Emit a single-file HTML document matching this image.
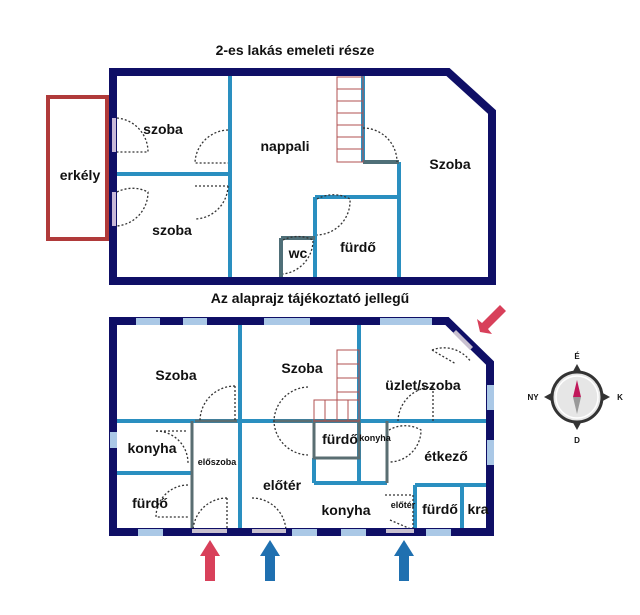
<!DOCTYPE html><html><head><style>body{margin:0;background:#fff}svg{display:block}text{font-family:"Liberation Sans",sans-serif;font-weight:bold;fill:#111}</style></head><body>
<svg width="640" height="615" viewBox="0 0 640 615" xmlns="http://www.w3.org/2000/svg">
<text x="295" y="55" font-size="14" text-anchor="middle">2-es lakás emeleti része</text>
<!-- top plan -->
<rect x="48" y="97" width="59" height="142" fill="none" stroke="#b03a3a" stroke-width="4"/>
<g stroke="#2a8fc0" stroke-width="4" fill="none">
<line x1="230" y1="72" x2="230" y2="281"/><line x1="113" y1="174" x2="230" y2="174"/>
<line x1="363" y1="72" x2="363" y2="162"/><line x1="399" y1="162" x2="399" y2="281"/>
<line x1="315" y1="197" x2="399" y2="197"/><line x1="315" y1="197" x2="315" y2="281"/>
</g>
<g stroke="#4f6f78" stroke-width="4"><line x1="363" y1="162" x2="399" y2="162"/><line x1="281" y1="238" x2="315" y2="238"/><line x1="281" y1="238" x2="281" y2="281"/></g>
<g stroke="#b05050" stroke-width="1" fill="none"><rect x="337" y="77" width="26" height="85"/>
<line x1="337" y1="89" x2="363" y2="89"/><line x1="337" y1="101" x2="363" y2="101"/><line x1="337" y1="113" x2="363" y2="113"/><line x1="337" y1="125" x2="363" y2="125"/><line x1="337" y1="137" x2="363" y2="137"/><line x1="337" y1="149" x2="363" y2="149"/></g>
<g stroke="#333" stroke-width="1.3" stroke-dasharray="2,2" fill="none">
<path d="M117 118 A34 34 0 0 1 148 152 L117 152"/><path d="M228 130 A34 34 0 0 0 195 163 L228 163"/>
<path d="M228 186 A34 34 0 0 1 195 219 M195 186 L228 186"/><path d="M117 192 A34 34 0 0 1 148 192 A34 34 0 0 1 117 226"/>
<path d="M363 128 A34 34 0 0 1 397 162"/><path d="M317 199 A34 34 0 0 1 350 199 A34 34 0 0 1 317 235"/>
<path d="M283 240 A34 34 0 0 1 313 240 A34 34 0 0 1 283 274"/></g>
<path d="M113 72 L448 72 L492 112 L492 281 L113 281 Z" fill="none" stroke="#0f0f66" stroke-width="8"/>
<rect x="112" y="118" width="4" height="34" fill="#c8b8d8"/><rect x="112" y="192" width="4" height="34" fill="#c8b8d8"/>
<text x="163" y="134" font-size="14" text-anchor="middle">szoba</text>
<text x="285" y="151" font-size="14" text-anchor="middle">nappali</text>
<text x="450" y="169" font-size="14" text-anchor="middle">Szoba</text>
<text x="80" y="180" font-size="14" text-anchor="middle">erkély</text>
<text x="172" y="235" font-size="14" text-anchor="middle">szoba</text>
<text x="298" y="258" font-size="14" text-anchor="middle">wc</text>
<text x="358" y="252" font-size="14" text-anchor="middle">fürdő</text>
<text x="310" y="303" font-size="14" text-anchor="middle">Az alaprajz tájékoztató jellegű</text>
<!-- bottom plan -->
<g stroke="#2a8fc0" stroke-width="4" fill="none">
<line x1="240" y1="321" x2="240" y2="532"/><line x1="359" y1="321" x2="359" y2="483"/>
<line x1="113" y1="421" x2="490" y2="421"/><line x1="113" y1="473" x2="192" y2="473"/>
<line x1="314" y1="458" x2="314" y2="483"/><line x1="314" y1="483" x2="387" y2="483"/>
<line x1="415" y1="485" x2="490" y2="485"/><line x1="415" y1="485" x2="415" y2="532"/>
<line x1="462" y1="485" x2="462" y2="532"/></g>
<g stroke="#5a6e72" stroke-width="3" fill="none">
<line x1="192" y1="421" x2="192" y2="532"/><rect x="314" y="421" width="45" height="37"/>
<line x1="387" y1="421" x2="387" y2="483"/><line x1="195" y1="421" x2="237" y2="421"/><line x1="273" y1="421" x2="312" y2="421"/></g>
<g stroke="#b05050" stroke-width="1" fill="none"><rect x="337" y="350" width="22" height="71"/><rect x="314" y="400" width="45" height="21"/>
<line x1="337" y1="364" x2="359" y2="364"/><line x1="337" y1="378" x2="359" y2="378"/><line x1="337" y1="392" x2="359" y2="392"/>
<line x1="325" y1="400" x2="325" y2="421"/><line x1="337" y1="400" x2="337" y2="421"/><line x1="348" y1="400" x2="348" y2="421"/></g>
<g stroke="#333" stroke-width="1.3" stroke-dasharray="2,2" fill="none">
<path d="M235 386 A35 35 0 0 0 200 421 M235 386 L235 421"/><path d="M308 387 A35 35 0 0 0 274 421 A35 35 0 0 0 308 455"/>
<path d="M433 387 A35 35 0 0 0 398 421 M433 387 L433 421"/><path d="M156 431 A32 32 0 0 1 188 463"/><path d="M156 431 L188 431"/>
<path d="M188 485 A32 32 0 0 0 156 517 L188 517"/><path d="M227 498 A34 34 0 0 0 193 532 M227 498 L227 532"/>
<path d="M252 498 A34 34 0 0 1 286 532"/><path d="M389 430 A32 32 0 0 1 421 430 A32 32 0 0 1 389 462"/>
<path d="M432 350 A33 33 0 0 1 471 362 M432 350 L456 364"/><path d="M385 495 L413 495 L413 528 M390 520 L413 530"/></g>
<path d="M113 321 L447 321 L490 363 L490 532 L113 532 Z" fill="none" stroke="#0f0f66" stroke-width="8"/>
<g fill="#aac8e6"><rect x="136" y="318" width="24" height="7"/><rect x="183" y="318" width="24" height="7"/><rect x="264" y="318" width="46" height="7"/><rect x="380" y="318" width="52" height="7"/>
<rect x="138" y="529" width="25" height="7"/><rect x="292" y="529" width="25" height="7"/><rect x="341" y="529" width="25" height="7"/><rect x="426" y="529" width="25" height="7"/>
<rect x="110" y="432" width="7" height="16" fill="#aac8e6"/><rect x="487" y="385" width="7" height="25"/><rect x="487" y="440" width="7" height="25"/></g>
<g fill="#c8c0d0"><rect x="192" y="529" width="35" height="4"/><rect x="252" y="529" width="34" height="4"/><rect x="386" y="529" width="28" height="4"/><polygon points="456,330 473,347 470,350 453,333"/></g>
<text x="176" y="380" font-size="14" text-anchor="middle">Szoba</text>
<text x="302" y="373" font-size="14" text-anchor="middle">Szoba</text>
<text x="423" y="390" font-size="14" text-anchor="middle">üzlet/szoba</text>
<text x="152" y="453" font-size="14" text-anchor="middle">konyha</text>
<text x="217" y="465" font-size="9" text-anchor="middle">előszoba</text>
<text x="340" y="444" font-size="14" text-anchor="middle">fürdő</text>
<text x="375" y="441" font-size="9" text-anchor="middle">konyha</text>
<text x="446" y="461" font-size="14" text-anchor="middle">étkező</text>
<text x="150" y="508" font-size="14" text-anchor="middle">fürdő</text>
<text x="282" y="490" font-size="14" text-anchor="middle">előtér</text>
<text x="346" y="515" font-size="14" text-anchor="middle">konyha</text>
<text x="403" y="508" font-size="9" text-anchor="middle">előtér</text>
<text x="440" y="514" font-size="14" text-anchor="middle">fürdő</text>
<text x="478" y="514" font-size="14" text-anchor="middle">kra</text>
<!-- arrows -->
<polygon points="210,540 220,556 215,556 215,581 205,581 205,556 200,556" fill="#d8405a"/>
<polygon points="270,540 280,556 275,556 275,581 265,581 265,556 260,556" fill="#1f70b0"/>
<polygon points="404,540 414,556 409,556 409,581 399,581 399,556 394,556" fill="#1f70b0"/>
<polygon points="480,332 477,319 482,323 500,305 506,311 488,329 492,334" fill="#d8405a"/>
<!-- compass -->
<g transform="translate(577,397)">
<polygon points="0,-33 6,-22 -6,-22" fill="#333"/><polygon points="0,33 6,22 -6,22" fill="#333"/>
<polygon points="-33,0 -22,6 -22,-6" fill="#333"/><polygon points="33,0 22,6 22,-6" fill="#333"/>
<circle r="25" fill="#e6e6e6" stroke="#333" stroke-width="3"/><circle r="21" fill="#e6e6e6" stroke="#fff" stroke-width="1.5"/>
<polygon points="0,-17 4,0 -4,0" fill="#c0185a"/><polygon points="0,17 4,0 -4,0" fill="#999"/>
<text x="0" y="-38" font-size="8" text-anchor="middle" fill="#555">É</text><text x="0" y="46" font-size="8" text-anchor="middle" fill="#555">D</text>
<text x="-44" y="3" font-size="8" text-anchor="middle" fill="#555">NY</text><text x="43" y="3" font-size="8" text-anchor="middle" fill="#555">K</text></g>
</svg></body></html>
